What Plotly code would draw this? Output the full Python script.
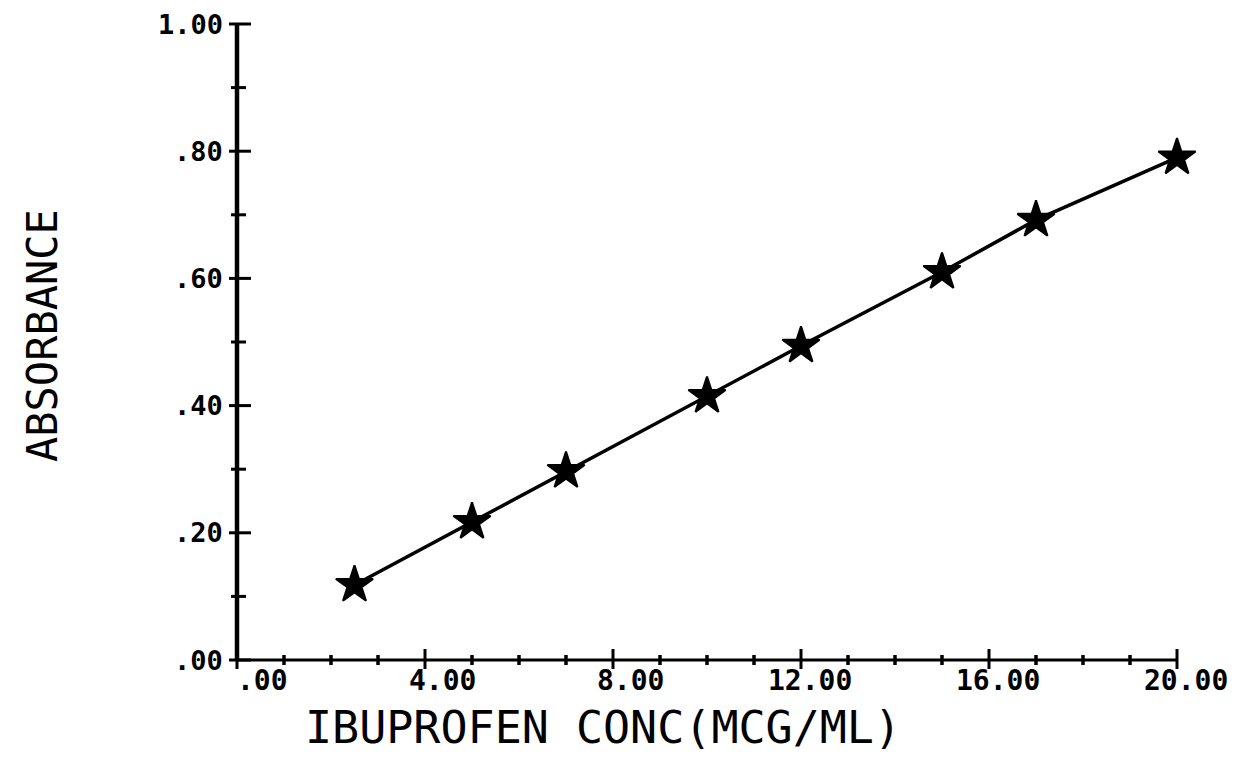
import plotly.graph_objects as go

# ---- data ----
conc = [2.5, 5.0, 7.0, 10.0, 12.0, 15.0, 17.0, 20.0]
absorbance = [0.118, 0.217, 0.297, 0.415, 0.494, 0.61, 0.692, 0.79]

x_major = [0, 4, 8, 12, 16, 20]
x_major_labels = [".00", "4.00", "8.00", "12.00", "16.00", "20.00"]
x_minor = [1, 2, 3, 5, 6, 7, 9, 10, 11, 13, 14, 15, 17, 18, 19]
y_major = [0.0, 0.2, 0.4, 0.6, 0.8, 1.0]
y_major_labels = [".00", ".20", ".40", ".60", ".80", "1.00"]
y_minor = [0.1, 0.3, 0.5, 0.7, 0.9]

x_title = "IBUPROFEN CONC(MCG/ML)"
y_title = "ABSORBANCE"

# ---- geometry (pixel mapping of the reference) ----
W, H = 1240, 758
X0_PX, X_PER = 237.0, 47.0      # x=0 at 237px, 47 px per unit
Y0_PX, Y_PER = 660.0, 636.0     # y=0 at 660px, 636 px per unit

xr = [-X0_PX / X_PER, (W - X0_PX) / X_PER]
yr = [-(H - Y0_PX) / Y_PER, Y0_PX / Y_PER]

fig = go.Figure()

fig.add_trace(go.Scatter(
    x=conc, y=absorbance, mode="lines+markers",
    line=dict(color="black", width=3.5),
    marker=dict(symbol="star", size=28, color="black",
                line=dict(color="black", width=2)),
    cliponaxis=False, showlegend=False, hoverinfo="skip",
))

shapes = []
# axis lines
shapes.append(dict(type="line", xref="x", yref="y", x0=0, x1=20, y0=0, y1=0,
                   line=dict(color="black", width=3)))
shapes.append(dict(type="line", xref="x", yref="y", x0=0, x1=0, y0=0, y1=1.0,
                   line=dict(color="black", width=4.5)))
# y ticks
for v in y_major:
    shapes.append(dict(type="line", xref="x", yref="y", xsizemode="pixel", xanchor=0,
                       x0=-8, x1=14, y0=v, y1=v, line=dict(color="black", width=3)))
for v in y_minor:
    shapes.append(dict(type="line", xref="x", yref="y", xsizemode="pixel", xanchor=0,
                       x0=-6, x1=9, y0=v, y1=v, line=dict(color="black", width=3)))
# x ticks
for v in x_major:
    shapes.append(dict(type="line", xref="x", yref="y", ysizemode="pixel", yanchor=0,
                       x0=v, x1=v, y0=-9, y1=11, line=dict(color="black", width=3)))
for v in x_minor:
    shapes.append(dict(type="line", xref="x", yref="y", ysizemode="pixel", yanchor=0,
                       x0=v, x1=v, y0=-5, y1=5, line=dict(color="black", width=3.5)))

ann = []
tick_font = dict(family="DejaVu Sans Mono", size=27, color="black", weight="bold")
for v, t in zip(y_major, y_major_labels):
    ann.append(dict(x=0, y=v, xref="x", yref="y", text=t, showarrow=False,
                    xanchor="right", yanchor="middle", xshift=-12, font=tick_font))
xtick_font = dict(family="DejaVu Sans Mono", size=28, color="black", weight="bold")
for v, t in zip(x_major, x_major_labels):
    ann.append(dict(x=v, y=0, xref="x", yref="y", text=t, showarrow=False,
                    xanchor="right", yanchor="middle", xshift=53, yshift=-20,
                    font=xtick_font))
ann.append(dict(x=603, y=H - 727, xref="paper", yref="paper", text=x_title,
                showarrow=False, xanchor="center", yanchor="middle",
                font=dict(family="DejaVu Sans Mono", size=45, color="black")))
ann.append(dict(x=42, y=H - 336, xref="paper", yref="paper", text=y_title,
                showarrow=False, xanchor="center", yanchor="middle", textangle=-90,
                font=dict(family="DejaVu Sans Mono", size=42, color="black")))
# convert pixel paper coords to fractions
for a in ann:
    if a["xref"] == "paper":
        a["x"] = a["x"] / W
        a["y"] = a["y"] / H

fig.update_layout(
    width=W, height=H,
    margin=dict(l=0, r=0, t=0, b=0),
    paper_bgcolor="white", plot_bgcolor="white",
    xaxis=dict(range=xr, visible=False, fixedrange=True),
    yaxis=dict(range=yr, visible=False, fixedrange=True),
    shapes=shapes, annotations=ann,
    showlegend=False,
)

fig.write_html("out.html", config={"displayModeBar": False})
